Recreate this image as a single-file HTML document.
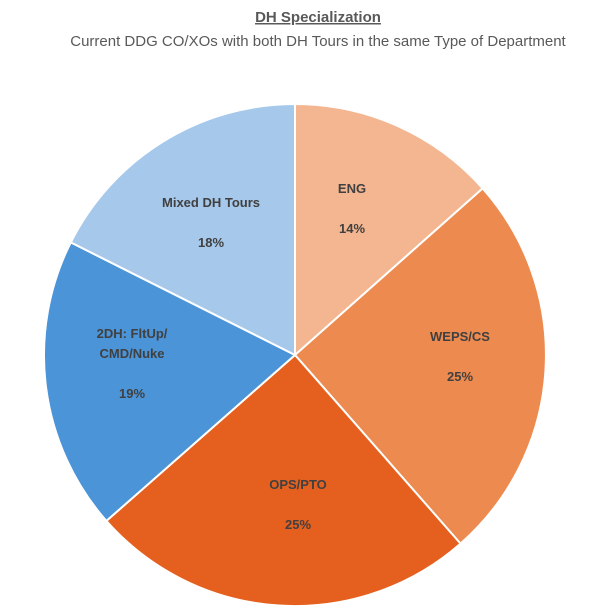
<!DOCTYPE html>
<html><head><meta charset="utf-8"><style>
html,body{margin:0;padding:0;background:#fff;}
</style></head><body>
<svg width="615" height="611" xmlns="http://www.w3.org/2000/svg" style="display:block">
<rect width="615" height="611" fill="#fff"/>
<text x="318" y="22" text-anchor="middle" font-family="Liberation Sans, sans-serif" font-size="15" font-weight="bold" fill="#595959" text-decoration="underline">DH Specialization</text>
<text x="318" y="46" text-anchor="middle" font-family="Liberation Sans, sans-serif" font-size="15" fill="#595959">Current DDG CO/XOs with both DH Tours in the same Type of Department</text>
<g stroke="#fff" stroke-width="2" stroke-linejoin="round">
<path d="M295,355 L295,104 A251,251 0 0 1 482.7,188.4 Z" fill="#F4B690"/>
<path d="M295,355 L482.7,188.4 A251,251 0 0 1 460.5,543.6 Z" fill="#ED8A4F"/>
<path d="M295,355 L460.5,543.6 A251,251 0 0 1 106.4,520.9 Z" fill="#E5601E"/>
<path d="M295,355 L106.4,520.9 A251,251 0 0 1 70.8,242.4 Z" fill="#4C94D8"/>
<path d="M295,355 L70.8,242.4 A251,251 0 0 1 295,104 Z" fill="#A6C8EB"/>
</g>
<g font-family="Liberation Sans, sans-serif" font-size="13" font-weight="bold" fill="#404040" text-anchor="middle">
<text x="352" y="193">ENG</text><text x="352" y="233">14%</text>
<text x="460" y="341">WEPS/CS</text><text x="460" y="381">25%</text>
<text x="298" y="489">OPS/PTO</text><text x="298" y="529">25%</text>
<text x="132" y="338">2DH: FltUp/</text><text x="132" y="358">CMD/Nuke</text><text x="132" y="398">19%</text>
<text x="211" y="207">Mixed DH Tours</text><text x="211" y="247">18%</text>
</g>
</svg>
</body></html>
